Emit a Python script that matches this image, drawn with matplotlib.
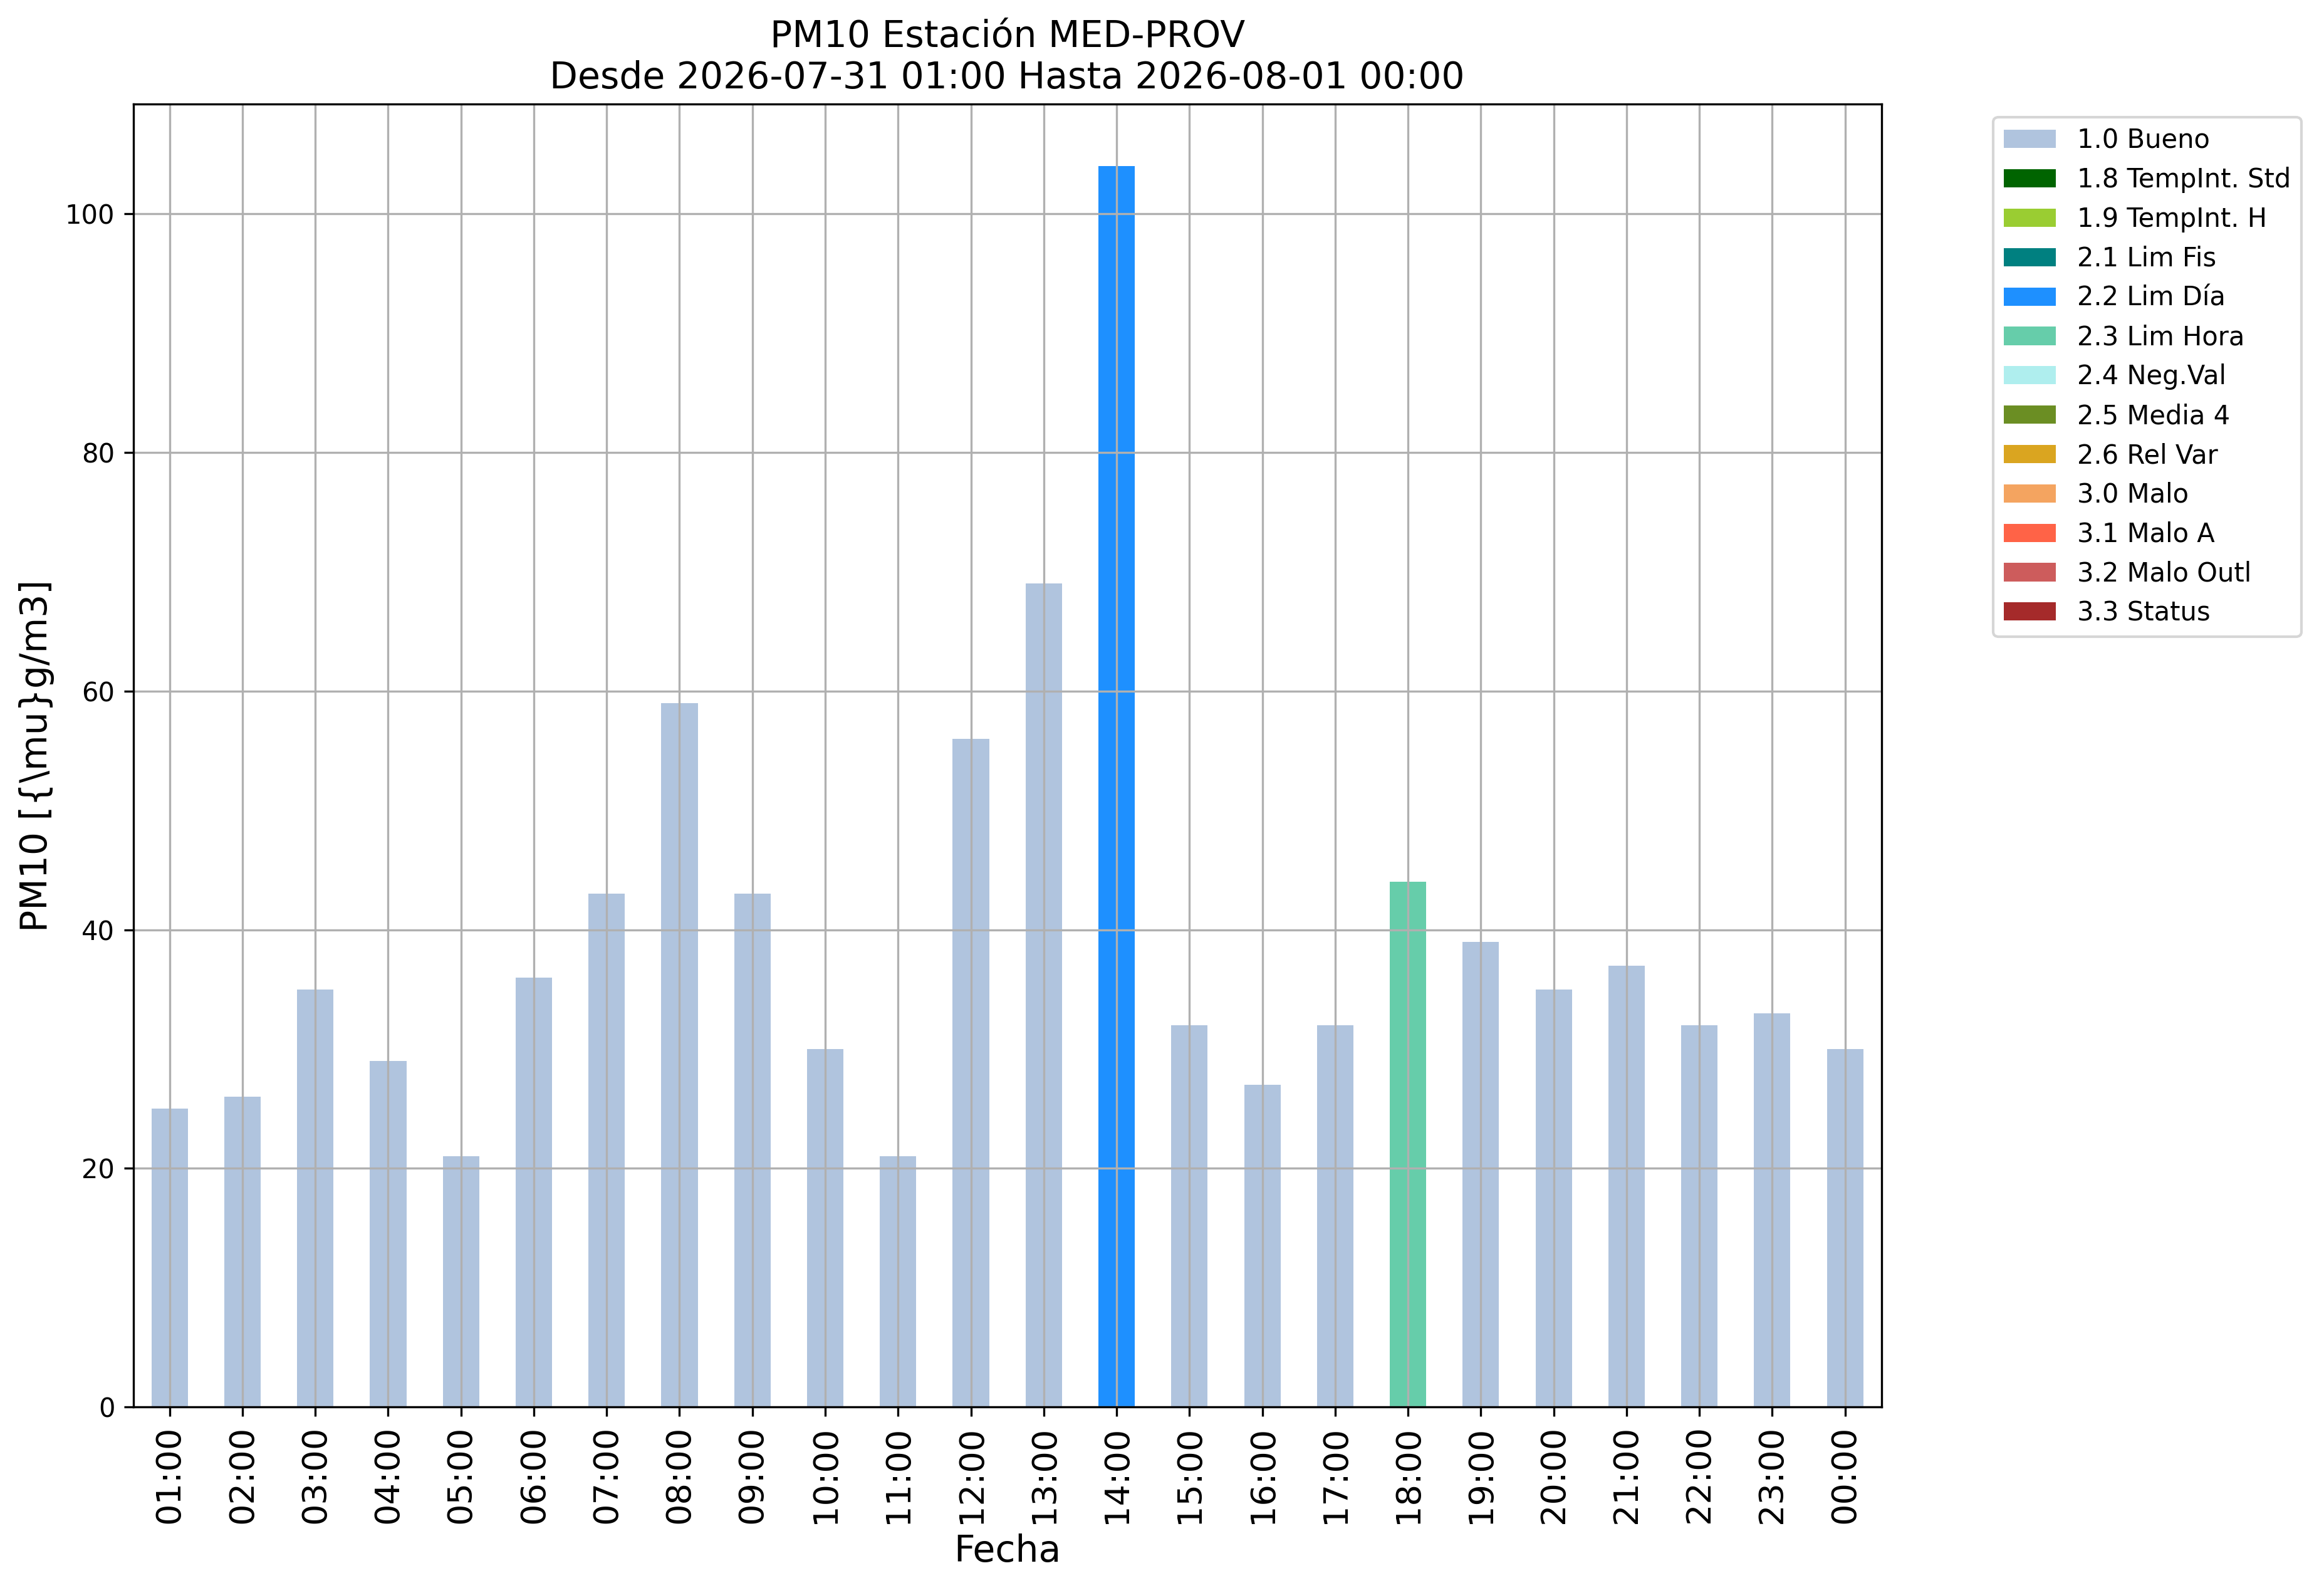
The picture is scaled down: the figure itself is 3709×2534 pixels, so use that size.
import numpy as np
import matplotlib
matplotlib.use("Agg")
import matplotlib.pyplot as plt

# Datos horarios de PM10 (ug/m3) y bandera de validacion de cada hora
horas = ["01:00", "02:00", "03:00", "04:00", "05:00", "06:00", "07:00", "08:00",
         "09:00", "10:00", "11:00", "12:00", "13:00", "14:00", "15:00", "16:00",
         "17:00", "18:00", "19:00", "20:00", "21:00", "22:00", "23:00", "00:00"]
valores = [25, 26, 35, 29, 21, 36, 43, 59, 43, 30, 21, 56, 69, 104, 32, 27,
           32, 44, 39, 35, 37, 32, 33, 30]
banderas = ["1.0 Bueno"] * 13 + ["2.2 Lim Día"] + ["1.0 Bueno"] * 3 + \
    ["2.3 Lim Hora"] + ["1.0 Bueno"] * 6

# Categorias de la leyenda y su color
categorias = ["1.0 Bueno", "1.8 TempInt. Std", "1.9 TempInt. H", "2.1 Lim Fis",
              "2.2 Lim Día", "2.3 Lim Hora", "2.4 Neg.Val", "2.5 Media 4",
              "2.6 Rel Var", "3.0 Malo", "3.1 Malo A", "3.2 Malo Outl", "3.3 Status"]
colores = ["lightsteelblue", "darkgreen", "yellowgreen", "teal", "dodgerblue",
           "mediumaquamarine", "paleturquoise", "olivedrab", "goldenrod",
           "sandybrown", "tomato", "indianred", "brown"]

fig = plt.figure(figsize=(3709 / 300, 2534 / 300), dpi=300)
ax = fig.add_axes([0.0573, 0.1140, 0.8096 - 0.0573, 0.9345 - 0.1140])

x = np.arange(len(horas))
vals = np.array(valores, dtype=float)
flags = np.array(banderas)

# Barras apiladas por categoria (solo una categoria tiene valor en cada hora)
base = np.zeros(len(horas))
for cat, col in zip(categorias, colores):
    alto = np.where(flags == cat, vals, 0.0)
    ax.bar(x, alto, width=0.5, bottom=base, color=col, label=cat)
    base = base + alto

ax.set_xlim(-0.5, len(horas) - 0.5)
ax.set_ylim(0, vals.max() * 1.05)  # margen superior del 5 %
ax.set_xticks(x)
ax.set_xticklabels(horas, rotation=90, fontsize=13)
ax.tick_params(axis="y", labelsize=10)
ax.grid(True)

ax.set_xlabel("Fecha", fontsize=14)
ax.set_ylabel(r"PM10 [{\mu}g/m3]", fontsize=14)
ax.set_title("PM10 Estación MED-PROV\nDesde 2026-07-31 01:00 Hasta 2026-08-01 00:00",
             fontsize=14)

ax.legend(loc="upper left", bbox_to_anchor=(1.0565, 1.0), fontsize=10)

plt.savefig("out.png", dpi=300)
